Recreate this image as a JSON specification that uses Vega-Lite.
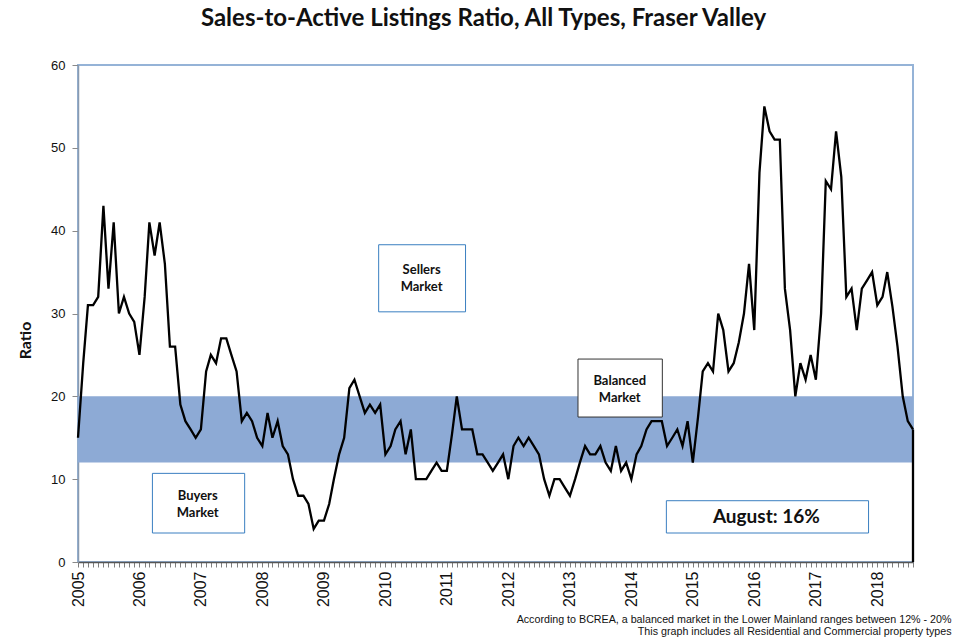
{
  "$schema": "https://vega.github.io/schema/vega-lite/v6.json",
  "width": 835,
  "height": 497,
  "autosize": "none",
  "padding": {"left": 78, "top": 65, "right": 47, "bottom": 78},
  "background": "white",
  "title": {
    "text": "Sales-to-Active Listings Ratio, All Types, Fraser Valley",
    "font": "Lato", "fontSize": 24, "fontWeight": "bold", "color": "#111111",
    "anchor": "middle", "frame": "group", "dx": -12, "offset": 28
  },
  "config": {
    "view": {"stroke": "#95b3d7", "strokeWidth": 2},
    "axis": {"grid": false}
  },
  "data": {"values": [
    {"date": "2005-01-01", "ratio": 15}, {"date": "2005-02-01", "ratio": 24}, {"date": "2005-03-01", "ratio": 31}, {"date": "2005-04-01", "ratio": 31}, {"date": "2005-05-01", "ratio": 32}, {"date": "2005-06-01", "ratio": 43}, {"date": "2005-07-01", "ratio": 33}, {"date": "2005-08-01", "ratio": 41}, {"date": "2005-09-01", "ratio": 30}, {"date": "2005-10-01", "ratio": 32}, {"date": "2005-11-01", "ratio": 30}, {"date": "2005-12-01", "ratio": 29},
    {"date": "2006-01-01", "ratio": 25}, {"date": "2006-02-01", "ratio": 32}, {"date": "2006-03-01", "ratio": 41}, {"date": "2006-04-01", "ratio": 37}, {"date": "2006-05-01", "ratio": 41}, {"date": "2006-06-01", "ratio": 36}, {"date": "2006-07-01", "ratio": 26}, {"date": "2006-08-01", "ratio": 26}, {"date": "2006-09-01", "ratio": 19}, {"date": "2006-10-01", "ratio": 17}, {"date": "2006-11-01", "ratio": 16}, {"date": "2006-12-01", "ratio": 15},
    {"date": "2007-01-01", "ratio": 16}, {"date": "2007-02-01", "ratio": 23}, {"date": "2007-03-01", "ratio": 25}, {"date": "2007-04-01", "ratio": 24}, {"date": "2007-05-01", "ratio": 27}, {"date": "2007-06-01", "ratio": 27}, {"date": "2007-07-01", "ratio": 25}, {"date": "2007-08-01", "ratio": 23}, {"date": "2007-09-01", "ratio": 17}, {"date": "2007-10-01", "ratio": 18}, {"date": "2007-11-01", "ratio": 17}, {"date": "2007-12-01", "ratio": 15},
    {"date": "2008-01-01", "ratio": 14}, {"date": "2008-02-01", "ratio": 18}, {"date": "2008-03-01", "ratio": 15}, {"date": "2008-04-01", "ratio": 17}, {"date": "2008-05-01", "ratio": 14}, {"date": "2008-06-01", "ratio": 13}, {"date": "2008-07-01", "ratio": 10}, {"date": "2008-08-01", "ratio": 8}, {"date": "2008-09-01", "ratio": 8}, {"date": "2008-10-01", "ratio": 7}, {"date": "2008-11-01", "ratio": 4}, {"date": "2008-12-01", "ratio": 5},
    {"date": "2009-01-01", "ratio": 5}, {"date": "2009-02-01", "ratio": 7}, {"date": "2009-03-01", "ratio": 10}, {"date": "2009-04-01", "ratio": 13}, {"date": "2009-05-01", "ratio": 15}, {"date": "2009-06-01", "ratio": 21}, {"date": "2009-07-01", "ratio": 22}, {"date": "2009-08-01", "ratio": 20}, {"date": "2009-09-01", "ratio": 18}, {"date": "2009-10-01", "ratio": 19}, {"date": "2009-11-01", "ratio": 18}, {"date": "2009-12-01", "ratio": 19},
    {"date": "2010-01-01", "ratio": 13}, {"date": "2010-02-01", "ratio": 14}, {"date": "2010-03-01", "ratio": 16}, {"date": "2010-04-01", "ratio": 17}, {"date": "2010-05-01", "ratio": 13}, {"date": "2010-06-01", "ratio": 16}, {"date": "2010-07-01", "ratio": 10}, {"date": "2010-08-01", "ratio": 10}, {"date": "2010-09-01", "ratio": 10}, {"date": "2010-10-01", "ratio": 11}, {"date": "2010-11-01", "ratio": 12}, {"date": "2010-12-01", "ratio": 11},
    {"date": "2011-01-01", "ratio": 11}, {"date": "2011-02-01", "ratio": 15.5}, {"date": "2011-03-01", "ratio": 20}, {"date": "2011-04-01", "ratio": 16}, {"date": "2011-05-01", "ratio": 16}, {"date": "2011-06-01", "ratio": 16}, {"date": "2011-07-01", "ratio": 13}, {"date": "2011-08-01", "ratio": 13}, {"date": "2011-09-01", "ratio": 12}, {"date": "2011-10-01", "ratio": 11}, {"date": "2011-11-01", "ratio": 12}, {"date": "2011-12-01", "ratio": 13},
    {"date": "2012-01-01", "ratio": 10}, {"date": "2012-02-01", "ratio": 14}, {"date": "2012-03-01", "ratio": 15}, {"date": "2012-04-01", "ratio": 14}, {"date": "2012-05-01", "ratio": 15}, {"date": "2012-06-01", "ratio": 14}, {"date": "2012-07-01", "ratio": 13}, {"date": "2012-08-01", "ratio": 10}, {"date": "2012-09-01", "ratio": 8}, {"date": "2012-10-01", "ratio": 10}, {"date": "2012-11-01", "ratio": 10}, {"date": "2012-12-01", "ratio": 9},
    {"date": "2013-01-01", "ratio": 8}, {"date": "2013-02-01", "ratio": 10}, {"date": "2013-03-01", "ratio": 12}, {"date": "2013-04-01", "ratio": 14}, {"date": "2013-05-01", "ratio": 13}, {"date": "2013-06-01", "ratio": 13}, {"date": "2013-07-01", "ratio": 14}, {"date": "2013-08-01", "ratio": 12}, {"date": "2013-09-01", "ratio": 11}, {"date": "2013-10-01", "ratio": 14}, {"date": "2013-11-01", "ratio": 11}, {"date": "2013-12-01", "ratio": 12},
    {"date": "2014-01-01", "ratio": 10}, {"date": "2014-02-01", "ratio": 13}, {"date": "2014-03-01", "ratio": 14}, {"date": "2014-04-01", "ratio": 16}, {"date": "2014-05-01", "ratio": 17}, {"date": "2014-06-01", "ratio": 17}, {"date": "2014-07-01", "ratio": 17}, {"date": "2014-08-01", "ratio": 14}, {"date": "2014-09-01", "ratio": 15}, {"date": "2014-10-01", "ratio": 16}, {"date": "2014-11-01", "ratio": 14}, {"date": "2014-12-01", "ratio": 17},
    {"date": "2015-01-01", "ratio": 12}, {"date": "2015-02-01", "ratio": 17.5}, {"date": "2015-03-01", "ratio": 23}, {"date": "2015-04-01", "ratio": 24}, {"date": "2015-05-01", "ratio": 23}, {"date": "2015-06-01", "ratio": 30}, {"date": "2015-07-01", "ratio": 28}, {"date": "2015-08-01", "ratio": 23}, {"date": "2015-09-01", "ratio": 24}, {"date": "2015-10-01", "ratio": 26.5}, {"date": "2015-11-01", "ratio": 30}, {"date": "2015-12-01", "ratio": 36},
    {"date": "2016-01-01", "ratio": 28}, {"date": "2016-02-01", "ratio": 47}, {"date": "2016-03-01", "ratio": 55}, {"date": "2016-04-01", "ratio": 52}, {"date": "2016-05-01", "ratio": 51}, {"date": "2016-06-01", "ratio": 51}, {"date": "2016-07-01", "ratio": 33}, {"date": "2016-08-01", "ratio": 28}, {"date": "2016-09-01", "ratio": 20}, {"date": "2016-10-01", "ratio": 24}, {"date": "2016-11-01", "ratio": 22}, {"date": "2016-12-01", "ratio": 25},
    {"date": "2017-01-01", "ratio": 22}, {"date": "2017-02-01", "ratio": 30}, {"date": "2017-03-01", "ratio": 46}, {"date": "2017-04-01", "ratio": 45}, {"date": "2017-05-01", "ratio": 52}, {"date": "2017-06-01", "ratio": 46.5}, {"date": "2017-07-01", "ratio": 32}, {"date": "2017-08-01", "ratio": 33}, {"date": "2017-09-01", "ratio": 28}, {"date": "2017-10-01", "ratio": 33}, {"date": "2017-11-01", "ratio": 34}, {"date": "2017-12-01", "ratio": 35},
    {"date": "2018-01-01", "ratio": 31}, {"date": "2018-02-01", "ratio": 32}, {"date": "2018-03-01", "ratio": 35}, {"date": "2018-04-01", "ratio": 30.8}, {"date": "2018-05-01", "ratio": 26}, {"date": "2018-06-01", "ratio": 20}, {"date": "2018-07-01", "ratio": 17}, {"date": "2018-08-01", "ratio": 16}
  ]},
  "layer": [
    {
      "data": {"values": [{}]},
      "mark": {"type": "rect", "color": "#8DAAD5"},
      "encoding": {
        "x": {"datum": {"year": 2005, "month": 1, "date": 1, "utc": true}, "type": "temporal"},
        "x2": {"datum": {"year": 2018, "month": 8, "date": 1, "utc": true}},
        "y": {"datum": 12, "type": "quantitative"},
        "y2": {"datum": 20}
      }
    },
    {
      "mark": {"type": "line", "color": "#000000", "strokeWidth": 2.3, "strokeJoin": "miter"},
      "encoding": {
        "x": {
          "field": "date", "type": "temporal",
          "scale": {"type": "utc", "domain": [{"year": 2005, "month": 1, "date": 1, "utc": true}, {"year": 2018, "month": 8, "date": 1, "utc": true}], "nice": false},
          "axis": {
            "tickCount": {"interval": "month", "step": 1},
            "labelExpr": "utcmonth(datum.value) == 0 ? utcFormat(datum.value, '%Y') : ''",
            "labelOverlap": false, "labelFlush": false,
            "labelAngle": 270, "labelAlign": "right", "labelBaseline": "middle",
            "labelFont": "Liberation Sans", "labelFontSize": 16, "labelColor": "#111111", "labelPadding": 4,
            "tickSize": 5, "tickColor": "#7f7f7f", "tickWidth": 1,
            "domainColor": "#555555", "domainWidth": 1.5,
            "title": ["According to BCREA, a balanced market in the Lower Mainland ranges between 12% - 20%", "This graph includes all Residential and Commercial property types"],
            "titleFont": "Liberation Sans", "titleFontSize": 10.7, "titleFontWeight": "normal", "titleColor": "#111111",
            "titleAnchor": "end", "titleAlign": "right", "titleBaseline": "top", "titleX": 873, "titleY": 52, "titleLineHeight": 12
          }
        },
        "y": {
          "field": "ratio", "type": "quantitative",
          "scale": {"domain": [0, 60], "nice": false, "zero": true},
          "axis": {
            "values": [0, 10, 20, 30, 40, 50, 60],
            "labelFont": "Liberation Sans", "labelFontSize": 13, "labelColor": "#111111", "labelPadding": 7,
            "tickSize": 6, "tickColor": "#8a8a8a", "domainColor": "#8a9bb0", "domainWidth": 1.5,
            "title": "Ratio", "titleFont": "Lato", "titleFontSize": 16, "titleFontWeight": "bold", "titleColor": "#111111",
            "titleAngle": 270, "titleAlign": "center", "titleBaseline": "middle", "titleX": -53, "titleY": 275
          }
        }
      }
    },
    {
      "transform": [{"filter": "utcyear(datum.date) == 2018 && utcmonth(datum.date) == 7"}],
      "mark": {"type": "rule", "color": "#000000", "strokeWidth": 2.3},
      "encoding": {
        "x": {"field": "date", "type": "temporal"},
        "y": {"field": "ratio", "type": "quantitative"},
        "y2": {"datum": 0}
      }
    },
    {
      "data": {"values": [{}]},
      "mark": {"type": "rect", "fill": "white", "stroke": "#3a7fc1", "strokeWidth": 1},
      "encoding": {
        "x": {"datum": {"year": 2009, "month": 11, "date": 22, "utc": true}, "type": "temporal"},
        "x2": {"datum": {"year": 2011, "month": 4, "date": 22, "utc": true}},
        "y": {"datum": 38.3, "type": "quantitative"},
        "y2": {"datum": 30.2}
      }
    },
    {
      "data": {"values": [{}]},
      "mark": {"type": "rect", "fill": "white", "stroke": "#3a7fc1", "strokeWidth": 1},
      "encoding": {
        "x": {"datum": {"year": 2006, "month": 3, "date": 19, "utc": true}, "type": "temporal"},
        "x2": {"datum": {"year": 2007, "month": 9, "date": 18, "utc": true}},
        "y": {"datum": 10.7, "type": "quantitative"},
        "y2": {"datum": 3.5}
      }
    },
    {
      "data": {"values": [{}]},
      "mark": {"type": "rect", "fill": "white", "stroke": "#333333", "strokeWidth": 1},
      "encoding": {
        "x": {"datum": {"year": 2013, "month": 2, "date": 18, "utc": true}, "type": "temporal"},
        "x2": {"datum": {"year": 2014, "month": 7, "date": 4, "utc": true}},
        "y": {"datum": 24.5, "type": "quantitative"},
        "y2": {"datum": 17.5}
      }
    },
    {
      "data": {"values": [{}]},
      "mark": {"type": "rect", "fill": "white", "stroke": "#3a7fc1", "strokeWidth": 1},
      "encoding": {
        "x": {"datum": {"year": 2014, "month": 7, "date": 28, "utc": true}, "type": "temporal"},
        "x2": {"datum": {"year": 2017, "month": 11, "date": 10, "utc": true}},
        "y": {"datum": 7.4, "type": "quantitative"},
        "y2": {"datum": 3.5}
      }
    },
    {
      "data": {"values": [{}]},
      "mark": {"type": "text", "text": ["Sellers", "Market"], "font": "Lato", "fontSize": 13, "fontWeight": "bold", "color": "#111111", "align": "center", "baseline": "middle", "lineHeight": 17},
      "encoding": {
        "x": {"datum": {"year": 2010, "month": 8, "date": 4, "utc": true}, "type": "temporal"},
        "y": {"datum": 35.2, "type": "quantitative"}
      }
    },
    {
      "data": {"values": [{}]},
      "mark": {"type": "text", "text": ["Buyers", "Market"], "font": "Lato", "fontSize": 13, "fontWeight": "bold", "color": "#111111", "align": "center", "baseline": "middle", "lineHeight": 17},
      "encoding": {
        "x": {"datum": {"year": 2006, "month": 12, "date": 13, "utc": true}, "type": "temporal"},
        "y": {"datum": 8.0, "type": "quantitative"}
      }
    },
    {
      "data": {"values": [{}]},
      "mark": {"type": "text", "text": ["Balanced", "Market"], "font": "Lato", "fontSize": 13, "fontWeight": "bold", "color": "#111111", "align": "center", "baseline": "middle", "lineHeight": 17},
      "encoding": {
        "x": {"datum": {"year": 2013, "month": 10, "date": 24, "utc": true}, "type": "temporal"},
        "y": {"datum": 21.9, "type": "quantitative"}
      }
    },
    {
      "data": {"values": [{}]},
      "mark": {"type": "text", "text": "August: 16%", "font": "Lato", "fontSize": 19, "fontWeight": "bold", "color": "#111111", "align": "center", "baseline": "middle"},
      "encoding": {
        "x": {"datum": {"year": 2016, "month": 3, "date": 13, "utc": true}, "type": "temporal"},
        "y": {"datum": 5.4, "type": "quantitative"}
      }
    }
  ]
}
